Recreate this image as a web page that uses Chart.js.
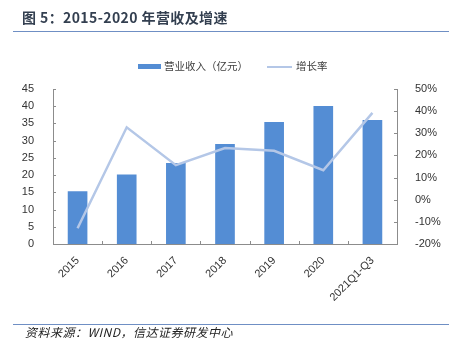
<!DOCTYPE html>
<html>
<head>
<meta charset="utf-8">
<script src="https://cdn.jsdelivr.net/npm/chart.js@4/dist/chart.umd.min.js"></script>
<style>
  html, body { margin: 0; padding: 0; background: #fff; }
  #wrap { position: relative; width: 452px; height: 353px; overflow: hidden; background: #fff; }
  #c { position: absolute; left: 0; top: 0; }
  .t { position: absolute; white-space: nowrap; font-family: "Noto Sans CJK SC", sans-serif; }
  #title { left: 22px; top: 7px; font-size: 14px; line-height: 20px; font-weight: bold; color: #333f50; letter-spacing: 0.4px; }
  .rule { position: absolute; left: 13px; width: 436px; height: 1px; background: #6f8fc4; }
  #source { left: 25px; top: 323px; font-size: 12px; line-height: 18px; font-style: italic; color: #222; letter-spacing: 0.5px; }
  .lg { position: absolute; font-family: "Noto Sans CJK SC", sans-serif; font-size: 10.5px; line-height: 14px; color: #404040; white-space: nowrap; }
  .sw { position: absolute; }
</style>
</head>
<body>
<div id="wrap">
  <canvas id="c" width="452" height="353"></canvas>
  <div id="title" class="t">图 5：2015-2020 年营收及增速</div>
  <div class="rule" style="top:31px"></div>
  <div id="legend"></div>
  <div class="rule" style="top:324px"></div>
  <div id="source" class="t">资料来源：WIND，信达证券研发中心</div>
</div>
<script>
const categories = ['2015', '2016', '2017', '2018', '2019', '2020', '2021Q1-Q3'];
const revenue = [15.3, 20.2, 23.5, 29.0, 35.4, 40.1, 36.0];
const growth = [-12.9, 32.7, 15.6, 23.3, 22.1, 13.3, 39.2];
const seriesNames = ['营业收入（亿元）', '增长率'];

const barColor = '#548dd4';
const lineColor = '#b4c7e7';
const axisColor = '#8c8c8c';
const tickFont = { family: '"Liberation Sans", Arial, sans-serif', size: 11 };

const innerTicks = {
  id: 'innerTicks',
  afterDraw(chart) {
    const ctx = chart.ctx;
    const a = chart.chartArea;
    ctx.save();
    ctx.strokeStyle = axisColor;
    ctx.lineWidth = 1;
    ctx.beginPath();
    const y = chart.scales.y, y1 = chart.scales.y1;
    y.ticks.forEach(t => {
      const p = Math.round(y.getPixelForValue(t.value)) + 0.5;
      ctx.moveTo(a.left, p); ctx.lineTo(a.left + 3, p);
    });
    y1.ticks.forEach(t => {
      const p = Math.round(y1.getPixelForValue(t.value)) + 0.5;
      ctx.moveTo(a.right - 3, p); ctx.lineTo(a.right, p);
    });
    const n = categories.length;
    for (let i = 1; i < n; i++) {
      const p = Math.round(a.left + i * (a.right - a.left) / n) + 0.5;
      ctx.moveTo(p, a.bottom); ctx.lineTo(p, a.bottom - 3);
    }
    ctx.stroke();
    ctx.restore();
  }
};

const chart = new Chart(document.getElementById('c'), {
  type: 'bar',
  data: {
    labels: categories,
    datasets: [
      {
        type: 'line',
        label: seriesNames[1],
        data: growth,
        yAxisID: 'y1',
        borderColor: lineColor,
        backgroundColor: lineColor,
        borderWidth: 2.5,
        pointRadius: 0,
        tension: 0,
        order: 0
      },
      {
        type: 'bar',
        label: seriesNames[0],
        data: revenue,
        yAxisID: 'y',
        backgroundColor: barColor,
        borderWidth: 0,
        categoryPercentage: 1,
        barPercentage: 0.4,
        order: 1
      }
    ]
  },
  options: {
    responsive: false,
    animation: false,
    layout: { padding: { top: 89, left: 0, right: 0, bottom: 0 } },
    plugins: { legend: { display: false }, tooltip: { enabled: false }, title: { display: false } },
    scales: {
      x: {
        grid: { display: false },
        border: { display: true, color: axisColor, width: 1 },
        ticks: { color: '#333', font: tickFont, minRotation: 45, maxRotation: 45, autoSkip: false, padding: 2 },
        afterFit(s) { s.height = 109; }
      },
      y: {
        position: 'left',
        min: 0, max: 45,
        grid: { display: false },
        border: { display: true, color: axisColor, width: 1 },
        ticks: { stepSize: 5, color: '#333', font: tickFont, padding: 11 },
        afterFit(s) { s.width = 53; }
      },
      y1: {
        position: 'right',
        min: -20, max: 50,
        grid: { display: false },
        border: { display: true, color: axisColor, width: 1 },
        ticks: { stepSize: 10, color: '#333', font: tickFont, padding: 10, callback: v => v + '%' },
        afterFit(s) { s.width = 55; }
      }
    }
  },
  plugins: [innerTicks]
});

// HTML legend built from the chart datasets
(function () {
  const lg = document.getElementById('legend');
  const items = [
    { ds: chart.data.datasets[1], swX: 138, swW: 23, txtX: 164, kind: 'bar' },
    { ds: chart.data.datasets[0], swX: 267, swW: 25, txtX: 296, kind: 'line' }
  ];
  const cy = 66.5;
  items.forEach(it => {
    const sw = document.createElement('div');
    sw.className = 'sw';
    const h = it.kind === 'bar' ? 5 : 2;
    sw.style.left = it.swX + 'px';
    sw.style.width = it.swW + 'px';
    sw.style.top = (cy - h / 2) + 'px';
    sw.style.height = h + 'px';
    sw.style.background = it.kind === 'bar' ? it.ds.backgroundColor : it.ds.borderColor;
    lg.appendChild(sw);
    const tx = document.createElement('div');
    tx.className = 'lg';
    tx.style.left = it.txtX + 'px';
    tx.style.top = (cy - 7.5) + 'px';
    tx.textContent = it.ds.label;
    lg.appendChild(tx);
  });
})();
</script>
</body>
</html>
